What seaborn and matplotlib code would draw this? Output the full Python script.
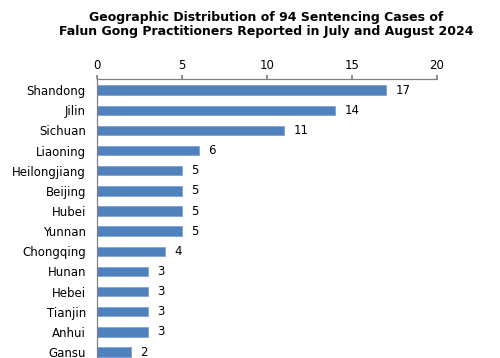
import matplotlib
matplotlib.use("Agg")
import matplotlib.pyplot as plt
import seaborn as sns
import pandas as pd

sns.set_theme(style="white")
plt.rcParams["font.family"] = ["DejaVu Sans"]
plt.rcParams["text.color"] = "black"
plt.rcParams["xtick.color"] = "black"
plt.rcParams["ytick.color"] = "black"

provinces = ["Shandong", "Jilin", "Sichuan", "Liaoning", "Heilongjiang", "Beijing",
             "Hubei", "Yunnan", "Chongqing", "Hunan", "Hebei", "Tianjin", "Anhui", "Gansu"]
cases = [17, 14, 11, 6, 5, 5, 5, 5, 4, 3, 3, 3, 3, 2]

df = pd.DataFrame({"province": provinces, "cases": cases})

BAR = "#4F81BD"

fig = plt.figure(figsize=(5, 3.58), dpi=100)
# axes runs off the bottom edge, as in the cropped original
ax = fig.add_axes([97 / 500, -0.0335, 340 / 500, 0.8128])

sns.barplot(data=df, y="province", x="cases", orient="h", color=BAR,
            width=0.47, edgecolor="#7FA3D0", linewidth=0.6, saturation=1, ax=ax)

for i, v in enumerate(cases):
    ax.text(v + 0.55, i, str(v), va="center", ha="left", fontsize=8.5, color="black")

ax.set_xlim(0, 20)
ax.set_ylim(13.89, -0.55)
ax.set_xticks([0, 5, 10, 15, 20])
ax.xaxis.tick_top()
ax.tick_params(axis="x", direction="out", length=3, color="#808080", labelsize=8.5,
               labelcolor="black", pad=2, top=True, bottom=False,
               labeltop=True, labelbottom=False)
ax.tick_params(axis="y", length=0, labelsize=8.5, labelcolor="black", pad=8)
ax.set_xlabel("")
ax.set_ylabel("")
for s in ["right", "bottom"]:
    ax.spines[s].set_visible(False)
for s in ["left", "top"]:
    ax.spines[s].set_color("#808080")
    ax.spines[s].set_linewidth(0.9)

fig.text(0.532, 0.968, "Geographic Distribution of 94 Sentencing Cases of\n"
         "Falun Gong Practitioners Reported in July and August 2024",
         ha="center", va="top", fontsize=9, fontweight="bold", linespacing=1.1,
         color="black")

plt.savefig("out.png", dpi=100)
